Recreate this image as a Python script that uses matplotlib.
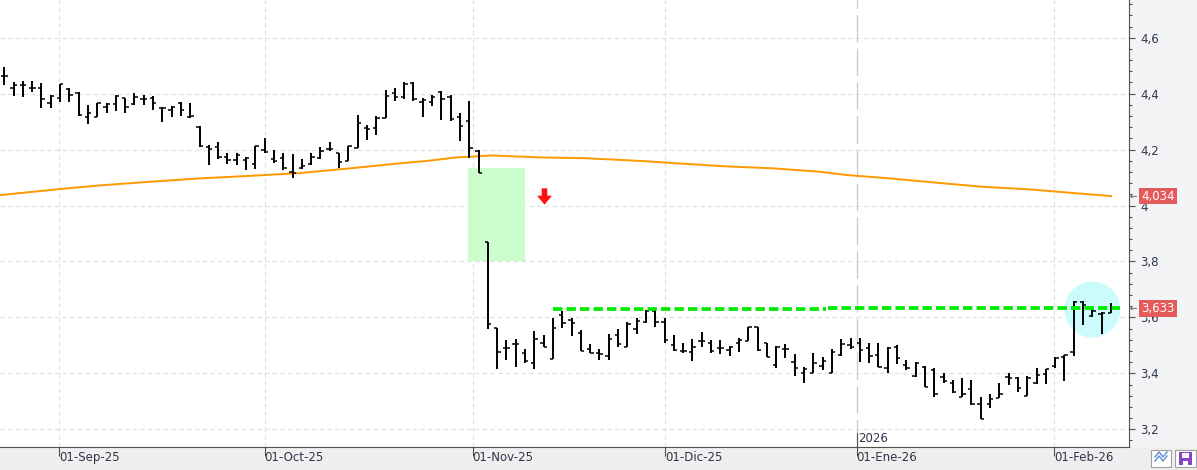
import numpy as np
import matplotlib.pyplot as plt
from matplotlib.patches import Rectangle
from matplotlib.lines import Line2D
from matplotlib.path import Path
from matplotlib.ticker import MultipleLocator, FuncFormatter

# daily OHLC, one bar per trading day (late Aug 25 -> early Feb 26)
opens = [4.463, 4.419, 4.431, 4.421, 4.419, 4.368, 4.383, 4.416, 4.403, 4.318,
         4.318, 4.353, 4.362, 4.383, 4.362, 4.380, 4.383, 4.350, 4.342, 4.366,
         4.316, 4.282, 4.210, 4.208, 4.172, 4.163, 4.161, 4.147, 4.199, 4.165,
         4.169, 4.121, 4.133, 4.148, 4.169, 4.201, 4.187, 4.159, 4.207, 4.276,
         4.278, 4.312, 4.401, 4.387, 4.439, 4.369, 4.369, 4.405, 4.389, 4.318,
         4.302, 4.196, 3.871, 3.563, 3.492, 3.504, 3.474, 3.436, 3.510, 3.453,
         3.609, 3.591, 3.544, 3.487, 3.474, 3.462, 3.537, 3.493, 3.558, 3.585,
         3.624, 3.585, 3.501, 3.481, 3.478, 3.517, 3.510, 3.490, 3.484, 3.510,
         3.517, 3.565, 3.508, 3.430, 3.486, 3.442, 3.402, 3.402, 3.426, 3.401,
         3.466, 3.501, 3.508, 3.490, 3.466, 3.418, 3.495, 3.430, 3.391, 3.422,
         3.412, 3.386, 3.367, 3.317, 3.343, 3.290, 3.290, 3.311, 3.386, 3.382,
         3.319, 3.365, 3.398, 3.426, 3.460, 3.478, 3.656, 3.605, 3.612, 3.617]
highs = [4.494, 4.443, 4.446, 4.445, 4.437, 4.395, 4.435, 4.419, 4.405, 4.359,
         4.368, 4.366, 4.395, 4.383, 4.401, 4.395, 4.392, 4.353, 4.357, 4.371,
         4.366, 4.284, 4.216, 4.228, 4.189, 4.189, 4.175, 4.214, 4.240, 4.199,
         4.187, 4.183, 4.166, 4.189, 4.208, 4.228, 4.189, 4.214, 4.324, 4.288,
         4.321, 4.413, 4.419, 4.441, 4.441, 4.383, 4.395, 4.410, 4.395, 4.332,
         4.375, 4.199, 3.871, 3.563, 3.519, 3.522, 3.486, 3.551, 3.537, 3.597,
         3.623, 3.597, 3.555, 3.505, 3.486, 3.541, 3.558, 3.583, 3.597, 3.627,
         3.627, 3.597, 3.537, 3.510, 3.522, 3.549, 3.519, 3.519, 3.498, 3.525,
         3.567, 3.565, 3.510, 3.498, 3.505, 3.469, 3.422, 3.472, 3.459, 3.486,
         3.522, 3.525, 3.525, 3.510, 3.510, 3.493, 3.501, 3.448, 3.442, 3.426,
         3.418, 3.400, 3.376, 3.382, 3.376, 3.314, 3.326, 3.367, 3.402, 3.386,
         3.391, 3.418, 3.415, 3.457, 3.466, 3.660, 3.660, 3.641, 3.620, 3.651]
lows = [4.431, 4.393, 4.389, 4.407, 4.350, 4.348, 4.369, 4.371, 4.320, 4.290,
        4.316, 4.332, 4.339, 4.330, 4.359, 4.359, 4.342, 4.300, 4.318, 4.320,
        4.312, 4.210, 4.145, 4.165, 4.148, 4.145, 4.127, 4.131, 4.187, 4.151,
        4.127, 4.100, 4.130, 4.145, 4.165, 4.196, 4.133, 4.159, 4.205, 4.234,
        4.252, 4.312, 4.375, 4.381, 4.375, 4.318, 4.357, 4.306, 4.303, 4.232,
        4.171, 4.115, 3.558, 3.415, 3.448, 3.424, 3.436, 3.416, 3.493, 3.451,
        3.561, 3.535, 3.481, 3.472, 3.446, 3.446, 3.493, 3.493, 3.540, 3.581,
        3.567, 3.508, 3.481, 3.474, 3.445, 3.495, 3.474, 3.469, 3.462, 3.478,
        3.517, 3.481, 3.457, 3.418, 3.454, 3.391, 3.367, 3.400, 3.411, 3.400,
        3.462, 3.486, 3.442, 3.436, 3.422, 3.402, 3.434, 3.412, 3.388, 3.350,
        3.317, 3.367, 3.329, 3.314, 3.287, 3.236, 3.275, 3.311, 3.358, 3.334,
        3.319, 3.362, 3.362, 3.418, 3.374, 3.462, 3.573, 3.600, 3.540, 3.615]
closes = [4.463, 4.431, 4.431, 4.421, 4.380, 4.392, 4.435, 4.395, 4.324, 4.330,
          4.366, 4.362, 4.393, 4.353, 4.389, 4.380, 4.366, 4.350, 4.353, 4.342,
          4.320, 4.213, 4.201, 4.175, 4.163, 4.181, 4.169, 4.214, 4.193, 4.160,
          4.133, 4.115, 4.141, 4.175, 4.195, 4.201, 4.157, 4.213, 4.294, 4.273,
          4.312, 4.392, 4.387, 4.435, 4.380, 4.377, 4.387, 4.380, 4.309, 4.284,
          4.205, 4.115, 3.575, 3.475, 3.492, 3.504, 3.445, 3.522, 3.493, 3.561,
          3.579, 3.580, 3.481, 3.474, 3.469, 3.522, 3.505, 3.576, 3.588, 3.624,
          3.583, 3.519, 3.484, 3.480, 3.493, 3.517, 3.481, 3.490, 3.495, 3.519,
          3.565, 3.484, 3.457, 3.493, 3.486, 3.418, 3.415, 3.438, 3.445, 3.478,
          3.505, 3.493, 3.484, 3.462, 3.422, 3.490, 3.454, 3.418, 3.438, 3.352,
          3.326, 3.374, 3.334, 3.326, 3.290, 3.236, 3.307, 3.326, 3.382, 3.347,
          3.382, 3.394, 3.415, 3.454, 3.466, 3.656, 3.644, 3.624, 3.617, 3.633]

# moving average read at a few bars
ma_idx = [-0.5, 6, 10.3, 15.7, 21, 26.4, 31.8, 37.2, 42.6, 45.6, 48.6, 52.5, 57.6,
          62.6, 68.6, 73.7, 77.6, 82.6, 87.6, 90.6, 95.2, 100.1, 105.2, 110.1, 115.2, 119]
ma_val = [4.037, 4.059, 4.072, 4.085, 4.097, 4.106, 4.116, 4.133, 4.151, 4.160, 4.172,
          4.179, 4.172, 4.169, 4.159, 4.148, 4.140, 4.133, 4.121, 4.109, 4.097, 4.082,
          4.067, 4.058, 4.044, 4.034]

month_labels = ['01-Sep-25', '01-Oct-25', '01-Nov-25', '01-Dic-25', '01-Ene-26', '01-Feb-26']
month_pos = [5.92, 27.98, 50.37, 71.03, 91.65, 112.9]
year_pos = 91.65

# resistance (two dashed segments) and gap zone
res_x1 = [59, 88.4]
res_y1 = 3.629
res_x2 = [88.6, 120]
res_y2 = 3.634
gap_x = [49.88, 56.0]
gap_y = [3.802, 4.134]
last_ma = 4.034
last_close = 3.633

W, H = 1197, 470
fig = plt.figure(figsize=(W / 100, H / 100), dpi=100)
fig.patch.set_facecolor('#f3f4f6')
fig.add_artist(Rectangle((0, 0), 1, 23.3 / H, transform=fig.transFigure,
                         facecolor='#efefef', edgecolor='none', zorder=0))

ax = fig.add_axes([0, 23.3 / H, 1129.3 / W, 446.7 / H])
ax.set_facecolor('white')
ax.set_xlim(-0.462, 120.97)
ax.set_ylim(3.1377, 4.7348)

# grid
for yv in np.arange(3.2, 4.61, 0.2):
    ax.axhline(yv, color='#dedede', lw=0.8, linestyle=(0, (4, 3)), zorder=0)
for xv in month_pos:
    if xv == year_pos:
        continue
    ax.axvline(xv, color='#dedede', lw=0.8, linestyle=(0, (4, 3)), zorder=0)
ax.axvline(year_pos, color='#c8c8c8', lw=0.9, linestyle=(0, (22, 5)), zorder=0)

# gap box and highlight circle
ax.add_patch(Rectangle((gap_x[0], gap_y[0]), gap_x[1] - gap_x[0], gap_y[1] - gap_y[0],
                       facecolor='#ccfdcc', edgecolor='none', zorder=1))
ax.scatter([117.0], [3.628], s=1624, color='#ccfbfe', edgecolors='none', zorder=1)

# moving average
ax.plot(ma_idx, ma_val, color='#ff9900', lw=1.4, zorder=2)

# OHLC bars
x = np.arange(len(opens))
ax.vlines(x, lows, highs, color='black', lw=1.4, zorder=4)
ax.hlines(opens, x - 0.36, x, color='black', lw=1.1, zorder=4)
ax.hlines(closes, x, x + 0.36, color='black', lw=1.1, zorder=4)

# resistance
ax.plot(res_x1, [res_y1, res_y1], color='#00ea00', lw=2.7, dashes=(2.5, 1.1), zorder=5)
ax.plot(res_x2, [res_y2, res_y2], color='#00ea00', lw=2.7, dashes=(2.5, 1.1), zorder=5)

# red down arrow
arrow = Path([(-0.34, 1), (0.34, 1), (0.34, 0.1), (0.92, 0.1), (0, -1),
              (-0.92, 0.1), (-0.34, 0.1), (-0.34, 1)])
ax.plot([58.0], [4.034], marker=arrow, markersize=11.7, color='#ff1010',
        markeredgewidth=0, zorder=5)

# axes styling
for s in ['top', 'left']:
    ax.spines[s].set_visible(False)
ax.spines['right'].set_color('#505050')
ax.spines['bottom'].set_color('#505050')
ax.yaxis.tick_right()
ax.yaxis.set_major_locator(MultipleLocator(0.2))
ax.yaxis.set_minor_locator(MultipleLocator(0.04))
ax.yaxis.set_major_formatter(FuncFormatter(lambda v, p: ('%g' % round(v, 2)).replace('.', ',')))
ax.tick_params(axis='y', which='major', length=4.3, width=0.8, color='#505050',
               labelsize=8.5, labelcolor='#30344a', pad=3.5)
ax.tick_params(axis='y', which='minor', length=2.5, width=0.8, color='#505050')

ax.set_xticks(month_pos)
ax.set_xticklabels(month_labels)
ax.tick_params(axis='x', length=6.5, width=0.8, color='#505050', labelsize=8.5,
               labelcolor='#30344a', pad=-3.5)
for lbl in ax.get_xticklabels():
    lbl.set_horizontalalignment('left')

# year marker
ax.plot([year_pos, year_pos], [3.1377, 3.1377 + 14 / 279.7], color='#505050', lw=0.8,
        zorder=5, clip_on=False)
ax.text(year_pos + 0.15, 3.1377 + 1.5 / 279.7, '2026', fontsize=8.5, color='#30344a',
        ha='left', va='bottom')

# last value labels on the price axis
for val in [last_ma, last_close]:
    txt = ('%.3f' % val).replace('.', ',')
    ax.text(1.0 + 12 / 1129.3, val, txt, transform=ax.get_yaxis_transform(),
            ha='left', va='center', color='white', fontsize=8.5, zorder=10, clip_on=False,
            bbox=dict(boxstyle='square,pad=0.16', facecolor='#e35b5b', edgecolor='none'))
    ax.text(1.0 + 0.5 / 1129.3, val, '\u2190', transform=ax.get_yaxis_transform(),
            ha='left', va='center', color='#555555', fontsize=6.5, zorder=10, clip_on=False)

# small icons bottom right
fig.add_artist(Rectangle((1151 / W, 3 / H), 20 / W, 17 / H, transform=fig.transFigure,
                         facecolor='white', edgecolor='#a0a0a0', lw=0.8))
for dy in [0, 4]:
    xs = np.array([1155, 1159, 1163, 1167]) / W
    ys = (np.array([9, 14, 9, 14]) + dy) / H
    fig.add_artist(Line2D(xs, ys, transform=fig.transFigure, color='#5a8fd6', lw=1))
fig.add_artist(Rectangle((1175 / W, 3 / H), 21 / W, 17 / H, transform=fig.transFigure,
                         facecolor='white', edgecolor='#a0a0a0', lw=0.8))
fig.add_artist(Rectangle((1179 / W, 5 / H), 13 / W, 13 / H, transform=fig.transFigure,
                         facecolor='#8546c4', edgecolor='none'))
fig.add_artist(Rectangle((1182 / W, 12 / H), 7 / W, 5 / H, transform=fig.transFigure,
                         facecolor='white', edgecolor='none'))
fig.add_artist(Rectangle((1183 / W, 5 / H), 5 / W, 4 / H, transform=fig.transFigure,
                         facecolor='white', edgecolor='none'))

fig.savefig('out.png', dpi=100, facecolor=fig.get_facecolor())
